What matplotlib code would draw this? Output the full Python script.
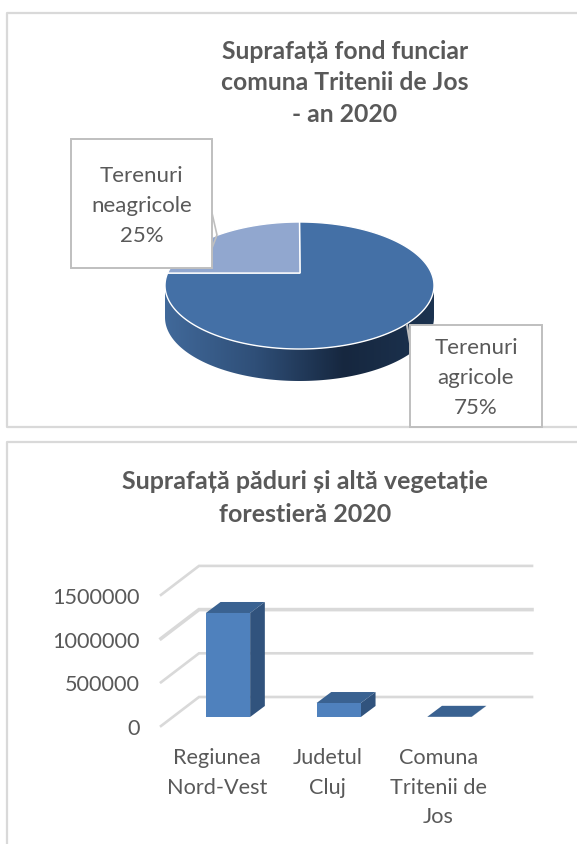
import numpy as np
import matplotlib
matplotlib.use("Agg")
import matplotlib.pyplot as plt
from matplotlib.patches import Polygon, Rectangle
from matplotlib.colors import LinearSegmentedColormap

plt.rcParams['font.family'] = ['Lato', 'DejaVu Sans']

pie_labels = ['Terenuri\nagricole\n75%', 'Terenuri\nneagricole\n25%']
pie_values = [75, 25]
pie_title = 'Suprafață fond funciar\ncomuna Tritenii de Jos\n- an 2020'

bar_labels = ['Regiunea\nNord-Vest', 'Judetul\nCluj', 'Comuna\nTritenii de\nJos']
bar_values = [1190000, 160000, 2000]
bar_ticks = [0, 500000, 1000000, 1500000]
bar_title = 'Suprafață păduri și altă vegetație\nforestieră 2020'

TEXT = '#595959'
GRID = '#d9d9d9'

fig = plt.figure(figsize=(5.77, 8.44), dpi=100)

# page axes in pixels, for frames, title and the pie
page = fig.add_axes([0, 0, 1, 1])
page.set_xlim(0, 577)
page.set_ylim(844, 0)
page.axis('off')

# chart frames (both run off the page)
page.plot([579, 7, 7, 579], [13, 13, 427, 427], color=GRID, lw=1.6, zorder=1)
page.plot([579, 7, 7], [442, 442, 846], color=GRID, lw=1.6, zorder=1)

page.text(345, 83, pie_title, ha='center', va='center', fontsize=17.8, fontweight='bold',
          color=TEXT, linespacing=1.45)
page.text(305, 498, bar_title, ha='center', va='center', fontsize=18, fontweight='bold',
          color=TEXT, linespacing=1.5)

# pie, tilted
cx, cy, rx, ry = 299.5, 285.5, 134.5, 63.5
px, py = 300, 273
depth = 32


def rim(deg):
    deg = np.asarray(deg, dtype=float)
    p = np.radians(deg + 11.3 * np.cos(np.radians(deg)))
    return cx + rx * np.cos(p), cy - ry * np.sin(p)


# side of the pie with a dark gradient
t = np.radians(np.linspace(180, 360, 120))
sx = cx + rx * np.cos(t)
sy = cy - ry * np.sin(t)
side = Polygon(np.r_[np.c_[sx, sy + depth], np.c_[sx[::-1], sy[::-1]]], closed=True,
               fc='none', ec='none', transform=page.transData)
page.add_patch(side)
cmap = LinearSegmentedColormap.from_list('side', ['#41699a', '#2f4f78', '#16273f', '#1c3350'])
grad = page.imshow(np.linspace(0, 1, 256).reshape(1, -1), extent=[165, 434, 381, 280],
                   cmap=cmap, aspect='auto', zorder=2)
grad.set_clip_path(side)
page.set_xlim(0, 577)
page.set_ylim(844, 0)

# top of the pie: slices go counter clockwise from 12 o'clock, small slice first
small = pie_values[1] / sum(pie_values) * 360
a1 = np.linspace(90, 90 + small, 60)
a2 = np.linspace(90 + small, 450, 200)
for ang, col in [(a2, '#4470a6'), (a1, '#91a7cf')]:
    x, y = rim(ang)
    page.add_patch(Polygon(np.r_[[[px, py]], np.c_[x, y]], closed=True, fc=col, ec='white',
                           lw=1.0, zorder=3))

# label boxes with leader lines
page.plot([212, 217, 212], [213, 235, 248], color='#bfbfbf', lw=1.2, zorder=4)
page.plot([407, 410], [325, 343], color='#bfbfbf', lw=1.5, zorder=4)
page.add_patch(Rectangle((71, 139), 141, 129, fc='white', ec='#bfbfbf', lw=1.4, zorder=5))
page.add_patch(Rectangle((410, 325), 132, 102, fc='white', ec='#bfbfbf', lw=1.4, zorder=5))
page.text(141.5, 206, pie_labels[1], ha='center', va='center', fontsize=16, color=TEXT,
          linespacing=1.62, zorder=6)
page.text(476, 378, pie_labels[0], ha='center', va='center', fontsize=16, color=TEXT,
          linespacing=1.62, zorder=6)

# bar chart axes: category spacing 110.7 px, 43.7 px per 500000
y_per_px = 500000 / 43.7
left, right, top, bottom = 150, 545, 550, 790
ax = fig.add_axes([left / 577, 1 - bottom / 844, (right - left) / 577, (bottom - top) / 844])
ax.set_xlim((left - 228) / 110.7, (right - 228) / 110.7)
ax.set_ylim((717 - bottom) * y_per_px, (717 - top) * y_per_px)
ax.axis('off')
ax.patch.set_alpha(0)

xpos = np.arange(len(bar_values))
bw = 0.40
dx = 14.7 / 110.7
dy = 11 * y_per_px
# walls: depth of floor, front edge sits lower and to the left of the bars
fx0 = (161 - 228) / 110.7
bx0 = (199 - 228) / 110.7
bx1 = (532 - 228) / 110.7
fy = -9 * y_per_px
by = 20 * y_per_px
for v in bar_ticks:
    lw = 2.6 if v == 1000000 else 1.9
    ax.plot([fx0, bx0, bx1], [v + fy, v + by, v + by], color=GRID, lw=lw, zorder=1,
            solid_joinstyle='miter')
    ax.annotate(str(v), xy=(fx0, v + fy), xytext=(-21, -3), textcoords='offset pixels',
                ha='right', va='center', fontsize=15.6, color=TEXT)

for x0, v in zip(xpos, bar_values):
    l, r = x0 - bw / 2, x0 + bw / 2
    ax.add_patch(Polygon([(r, 0), (r + dx, dy), (r + dx, v + dy), (r, v)], fc='#31537d', ec='none', zorder=3))
    ax.add_patch(Polygon([(l, v), (r, v), (r + dx, v + dy), (l + dx, v + dy)], fc='#3a6291', ec='none', zorder=3))
    ax.bar(x0, v, width=bw, color='#4f81bd', zorder=4)

for x0, lab in zip(xpos, bar_labels):
    ax.annotate(lab, xy=(x0, 0), xytext=(-11, -31), textcoords='offset pixels',
                ha='center', va='top', fontsize=15.6, color=TEXT, linespacing=1.6)

fig.savefig('out.png', dpi=100)
